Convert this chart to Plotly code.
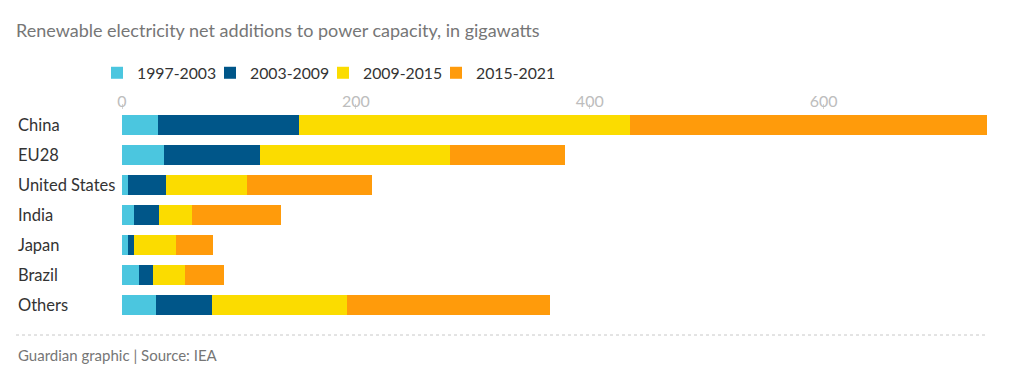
import plotly.graph_objects as go

categories = ["China", "EU28", "United States", "India", "Japan", "Brazil", "Others"]
series_names = ["1997-2003", "2003-2009", "2009-2015", "2015-2021"]
p1997_2003 = [30.5, 35.6, 5, 10, 5, 14.3, 29]
p2003_2009 = [120.5, 82, 33, 22, 5, 12, 48]
p2009_2015 = [283, 163, 68.5, 28, 36, 27.5, 115]
p2015_2021 = [306, 98, 107, 76, 31.5, 33.5, 174]
tick_vals = [0, 200, 400, 600]

colors = ["#4bc6df", "#005689", "#fbdc00", "#ff9b0b"]
values = [p1997_2003, p2003_2009, p2009_2015, p2015_2021]

FONT = "Lato"
OFF = 8  # page body margin
W, H = 998, 370
L, R, T, B = 114, 18, 102, 58
pw = W - L - R
ph = H - T - B

def px_x(x):  # screen x -> paper
    return (x - OFF - L) / pw

def px_y(y):  # screen y -> paper
    return (H - B - (y - OFF)) / ph

fig = go.Figure()
for name, vals, col in zip(series_names, values, colors):
    fig.add_trace(go.Bar(
        y=categories, x=vals, name=name, orientation="h",
        marker=dict(color=col, line=dict(width=0)),
        hoverinfo="x+name",
    ))
# invisible spacer legend entry so the last legend label is not clipped
fig.add_trace(go.Bar(
    y=[None], x=[None], name=" ", orientation="h", opacity=0,
    marker=dict(color="rgba(0,0,0,0)", line=dict(width=0)), hoverinfo="skip",
))

annotations = []
for c in categories:
    annotations.append(dict(
        x=px_x(16), xref="paper", y=c, yref="y", text=c, showarrow=False,
        xanchor="left", yanchor="middle",
        font=dict(family=FONT, size=16.5, color="#333333"),
    ))
annotations.append(dict(
    x=px_x(16), xref="paper", y=px_y(355), yref="paper",
    text="Guardian graphic | Source: IEA", showarrow=False,
    xanchor="left", yanchor="middle",
    font=dict(family=FONT, size=15, color="#767676"),
))

fig.update_layout(
    width=W, height=H,
    margin=dict(l=L, r=R, t=T, b=B, pad=0, autoexpand=False),
    barmode="stack", bargap=1/3,
    paper_bgcolor="white", plot_bgcolor="white",
    title=dict(
        text="Renewable electricity net additions to power capacity, in gigawatts",
        x=(16 - OFF) / W, xref="container", xanchor="left",
        y=1 - (31 - OFF) / H, yref="container", yanchor="middle",
        font=dict(family=FONT, size=18, color="#767676"),
    ),
    legend=dict(
        orientation="h", x=px_x(97), xanchor="left",
        y=px_y(73), yref="paper", yanchor="middle",
        font=dict(family=FONT, size=15.8, color="#333333"),
        traceorder="normal", itemwidth=30,
        entrywidth=68, entrywidthmode="pixels",
        bgcolor="rgba(0,0,0,0)",
    ),
    xaxis=dict(
        side="top", range=[0, 740.5], tickvals=tick_vals,
        showgrid=True, gridcolor="rgba(255,255,255,0.7)", gridwidth=1,
        layer="above traces", zeroline=False, showline=False,
        ticks="outside", ticklen=5, tickwidth=1, tickcolor="#d4d4d4",
        ticklabelstandoff=-9,
        tickfont=dict(family=FONT, size=16, color="#bdbdbd"),
        fixedrange=True,
    ),
    yaxis=dict(
        autorange="reversed", showticklabels=False, showgrid=False,
        zeroline=False, showline=False, ticks="", fixedrange=True,
    ),
    annotations=annotations,
    shapes=[dict(
        type="line", xref="paper", yref="paper",
        x0=px_x(16), x1=px_x(988), y0=px_y(335), y1=px_y(335),
        line=dict(color="#c8c8c8", width=1, dash="dot"),
    )],
    showlegend=True,
)

fig.write_html("out.html")
